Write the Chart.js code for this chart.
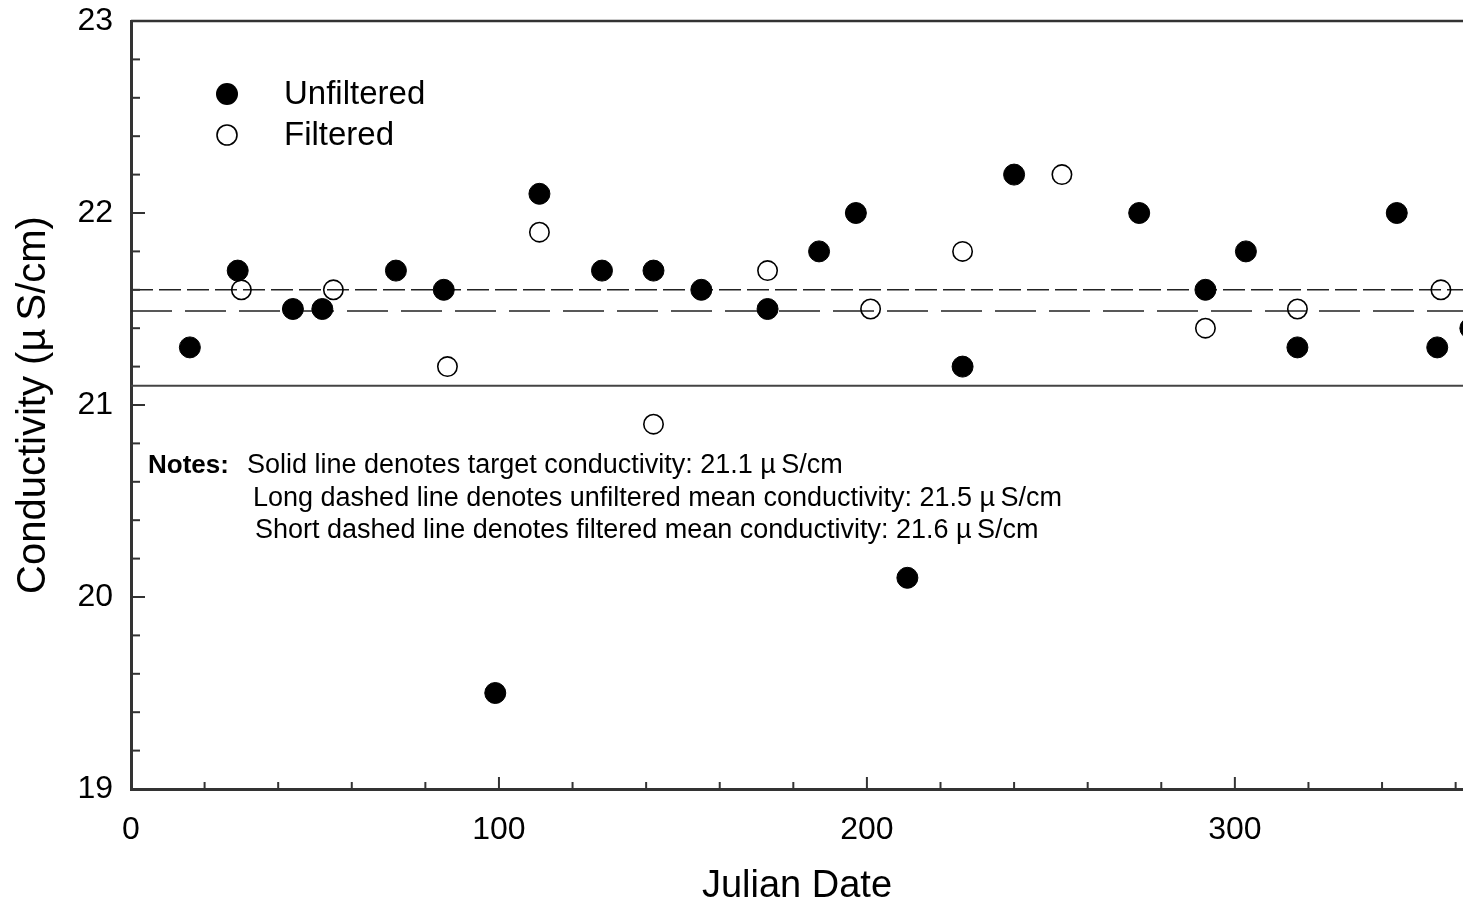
<!DOCTYPE html>
<html>
<head>
<meta charset="utf-8">
<script src="https://cdn.jsdelivr.net/npm/chart.js@4.4.1/dist/chart.umd.min.js"></script>
<style>
html,body{margin:0;padding:0;background:#fff}
canvas{display:block}
</style>
</head>
<body>
<canvas id="grafico" width="1463" height="911"></canvas>
<script>
// valores
let diasUnfiltered = [16,29,44,52,72,85,99,111,128,142,155,173,187,197,211,226,240,274,292,303,317,344,355,364]
let condUnfiltered = [21.3,21.7,21.5,21.5,21.7,21.6,19.5,22.1,21.7,21.7,21.6,21.5,21.8,22.0,20.1,21.2,22.2,22.0,21.6,21.8,21.3,22.0,21.3,21.4]

let diasFiltered = [30,55,86,111,142,173,201,226,253,292,317,356]
let condFiltered = [21.6,21.6,21.2,21.9,20.9,21.7,21.5,21.8,22.2,21.4,21.5,21.6]

let alvo = 21.1
let mediaUnfiltered = 21.49
let mediaFiltered = 21.6

let xMin = 0
let xMax = 362
let yMin = 19
let yMax = 23

let xTicks = [0,100,200,300]
let xTicksMenores = [20,40,60,80,120,140,160,180,220,240,260,280,320,340,360]
let yTicks = [19,20,21,22,23]
let yTicksMenores = [19.2,19.4,19.6,19.8,20.2,20.4,20.6,20.8,21.2,21.4,21.6,21.8,22.2,22.4,22.6,22.8]

let notas = [
"Solid line denotes target conductivity: 21.1 \u00b5\u2009S/cm",
"Long dashed line denotes unfiltered mean conductivity: 21.5 \u00b5\u2009S/cm",
"Short dashed line denotes filtered mean conductivity: 21.6 \u00b5\u2009S/cm"
]

let fonte = "'Liberation Sans', Arial, sans-serif"
let cor = "#222"

function pontos(xs,ys){
return xs.map((x,i)=>({x:x,y:ys[i]}))
}

function linha(v){
return [{x:xMin,y:v},{x:xMax,y:v}]
}

// ticks para dentro, borda de cima, legenda e notas
let extras = {
id:"extras",
afterDraw(chart){
let ctx = chart.ctx
let area = chart.chartArea
let sx = chart.scales.x
let sy = chart.scales.y
ctx.save()
ctx.strokeStyle = "#333"
ctx.lineWidth = 2.5
ctx.beginPath()
ctx.moveTo(area.left,area.top)
ctx.lineTo(area.right,area.top)
ctx.stroke()

ctx.lineWidth = 2
xTicks.forEach(v=>{
let px = sx.getPixelForValue(v)
ctx.beginPath(); ctx.moveTo(px,area.bottom); ctx.lineTo(px,area.bottom-12); ctx.stroke()
})
xTicksMenores.forEach(v=>{
let px = sx.getPixelForValue(v)
ctx.beginPath(); ctx.moveTo(px,area.bottom); ctx.lineTo(px,area.bottom-7); ctx.stroke()
})
yTicks.forEach(v=>{
let py = sy.getPixelForValue(v)
ctx.beginPath(); ctx.moveTo(area.left,py); ctx.lineTo(area.left+14,py); ctx.stroke()
})
yTicksMenores.forEach(v=>{
let py = sy.getPixelForValue(v)
ctx.beginPath(); ctx.moveTo(area.left,py); ctx.lineTo(area.left+9,py); ctx.stroke()
})

// legenda
let ds = chart.data.datasets
ctx.fillStyle = "#000"
ctx.beginPath(); ctx.arc(227,94,11,0,Math.PI*2); ctx.fill()
ctx.strokeStyle = "#000"
ctx.lineWidth = 1.6
ctx.beginPath(); ctx.arc(227,135,10,0,Math.PI*2); ctx.stroke()
ctx.font = "33px " + fonte
ctx.textBaseline = "middle"
ctx.textAlign = "left"
ctx.fillText(ds[0].label,284,95)
ctx.fillText(ds[1].label,284,136)

// notas
ctx.font = "bold 26px " + fonte
ctx.fillText("Notes:",148,466)
ctx.font = "27px " + fonte
ctx.fillText(notas[0],247,466)
ctx.fillText(notas[1],253,499)
ctx.fillText(notas[2],255,531)
ctx.restore()
}
}

new Chart(document.getElementById("grafico"),{
type:"scatter",
data:{
datasets:[
{
label:"Unfiltered",
data:pontos(diasUnfiltered,condUnfiltered),
pointRadius:10.5,
pointBackgroundColor:"#000",
pointBorderColor:"#000",
pointBorderWidth:1,
order:1
},
{
label:"Filtered",
data:pontos(diasFiltered,condFiltered),
pointRadius:9.7,
pointBackgroundColor:"rgba(0,0,0,0)",
pointBorderColor:"#000",
pointBorderWidth:1.6,
order:2
},
{
label:"Target",
data:linha(alvo),
showLine:true,
pointRadius:0,
borderColor:"#444",
borderWidth:2,
order:3
},
{
label:"Unfiltered mean",
data:linha(mediaUnfiltered),
showLine:true,
pointRadius:0,
borderColor:cor,
borderWidth:1.5,
borderDash:[41,13],
order:3
},
{
label:"Filtered mean",
data:linha(mediaFiltered),
showLine:true,
pointRadius:0,
borderColor:cor,
borderWidth:1.5,
borderDash:[22,6],
order:3
}
]
},
options:{
responsive:false,
animation:false,
devicePixelRatio:1,
layout:{autoPadding:false,padding:{top:21,right:0,left:0,bottom:0}},
plugins:{legend:{display:false},tooltip:{enabled:false}},
scales:{
x:{
type:"linear",
min:xMin,
max:xMax,
afterBuildTicks:(s)=>{s.ticks = xTicks.map(v=>({value:v}))},
afterFit:(s)=>{s.height = 122; s.paddingLeft = 0; s.paddingRight = 0},
grid:{drawOnChartArea:false,drawTicks:false},
border:{display:true,color:"#333",width:3},
ticks:{color:"#000",font:{family:fonte,size:32},padding:22,maxRotation:0},
title:{display:true,text:"Julian Date",color:"#000",font:{family:fonte,size:38},padding:{top:0,bottom:2}}
},
y:{
type:"linear",
min:yMin,
max:yMax,
afterBuildTicks:(s)=>{s.ticks = yTicks.map(v=>({value:v}))},
afterFit:(s)=>{s.width = 131; s.paddingTop = 0; s.paddingBottom = 0},
grid:{drawOnChartArea:false,drawTicks:false},
border:{display:true,color:"#333",width:3},
ticks:{color:"#000",font:{family:fonte,size:32},padding:18},
title:{display:true,text:"Conductivity (\u00b5\u2009S/cm)",color:"#000",font:{family:fonte,size:40},padding:{top:10,bottom:0}}
}
}
},
plugins:[extras]
})
</script>
</body>
</html>
